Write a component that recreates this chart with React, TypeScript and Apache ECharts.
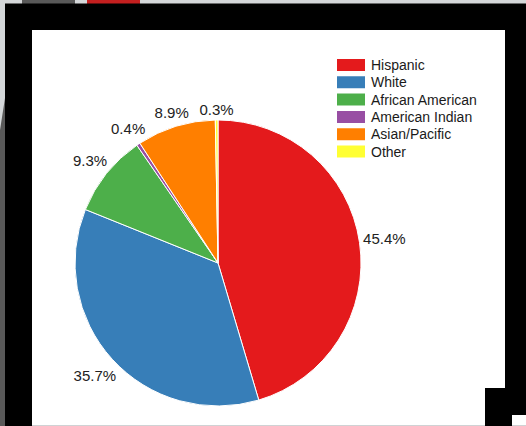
import React, { useEffect, useRef } from "react";
import * as echarts from "echarts";

const categories = ["Hispanic", "White", "African American", "American Indian", "Asian/Pacific", "Other"];
const values = [45.4, 35.7, 9.3, 0.4, 8.9, 0.3];
const colors = ["#e41a1c", "#377eb8", "#4daf4a", "#984ea3", "#ff7f00", "#ffff33"];

const PIE_CX = 218;
const PIE_CY = 263;
const PIE_R = 143;
const LABEL_GAP = 3;

function nearestDist(px: number, py: number, a: number, b: number) {
  const qx = Math.min(Math.max(0, px - a), px + a);
  const qy = Math.min(Math.max(0, py - b), py + b);
  return Math.hypot(qx, qy);
}

export default function App() {
  const ref = useRef<HTMLDivElement>(null);
  useEffect(() => {
    if (!ref.current) return;
    const chart = echarts.init(ref.current, null, { renderer: "svg" });
    const font = "Arial, 'Liberation Sans', sans-serif";
    chart.setOption({
      animation: false,
      backgroundColor: "#d4d7d9",
      color: colors,
      graphic: [
        { type: "rect", z: -10, shape: { x: 22, y: 0, width: 53, height: 4 }, style: { fill: "#595959" } },
        { type: "rect", z: -10, shape: { x: 87, y: 0, width: 53, height: 4 }, style: { fill: "#c41f1f" } },
        { type: "polygon", z: -10, shape: { points: [[5, 98], [5, 426], [0, 426], [0, 130]] }, style: { fill: "#595959" } },
        { type: "rect", z: -10, shape: { x: 5, y: 3.5, width: 521, height: 423 }, style: { fill: "#000" } },
        { type: "rect", z: -10, shape: { x: 32, y: 30, width: 473, height: 396 }, style: { fill: "#fff" } },
        { type: "rect", z: -10, shape: { x: 32, y: 425, width: 494, height: 1 }, style: { fill: "#cfd2d4" } },
        { type: "rect", z: -10, shape: { x: 485, y: 388, width: 27, height: 38 }, style: { fill: "#000" } },
        { type: "rect", z: -10, shape: { x: 512, y: 415, width: 14, height: 10 }, style: { fill: "#fff" } },
      ],
      legend: {
        left: 335,
        top: 57,
        padding: 0,
        orient: "vertical",
        itemWidth: 30,
        itemHeight: 14,
        itemGap: 1.3,
        icon: "rect",
        textStyle: { fontFamily: font, fontSize: 14, lineHeight: 14, color: "#1a1a1a" },
        data: categories,
      },
      series: [
        {
          type: "pie",
          center: [PIE_CX, PIE_CY],
          radius: PIE_R,
          startAngle: 90,
          clockwise: true,
          avoidLabelOverlap: false,
          itemStyle: { borderColor: "#fff", borderWidth: 1 },
          label: {
            show: true,
            position: "inside",
            formatter: (p: any) => p.value.toFixed(1) + "%",
            fontFamily: font,
            fontSize: 15,
            color: "#222",
          },
          labelLayout: (params: any) => {
            const r = params.labelRect;
            const dx = r.x + r.width / 2 - PIE_CX;
            const dy = r.y + r.height / 2 - PIE_CY;
            const d = Math.hypot(dx, dy) || 1;
            const ux = dx / d;
            const uy = dy / d;
            const a = r.width / 2;
            const b = r.height / 2;
            const target = PIE_R + LABEL_GAP;
            let lo = 0;
            let hi = PIE_R + 200;
            for (let i = 0; i < 40; i++) {
              const mid = (lo + hi) / 2;
              if (nearestDist(ux * mid, uy * mid, a, b) < target) lo = mid;
              else hi = mid;
            }
            return { x: PIE_CX + ux * hi, y: PIE_CY + uy * hi, align: "center", verticalAlign: "middle" };
          },
          labelLine: { show: false },
          emphasis: { disabled: true },
          data: categories.map((c, i) => ({ name: c, value: values[i] })),
        },
      ],
    });
    return () => chart.dispose();
  }, []);
  return <div ref={ref} style={{ position: "fixed", left: 0, top: 0, width: 526, height: 426 }} />;
}
